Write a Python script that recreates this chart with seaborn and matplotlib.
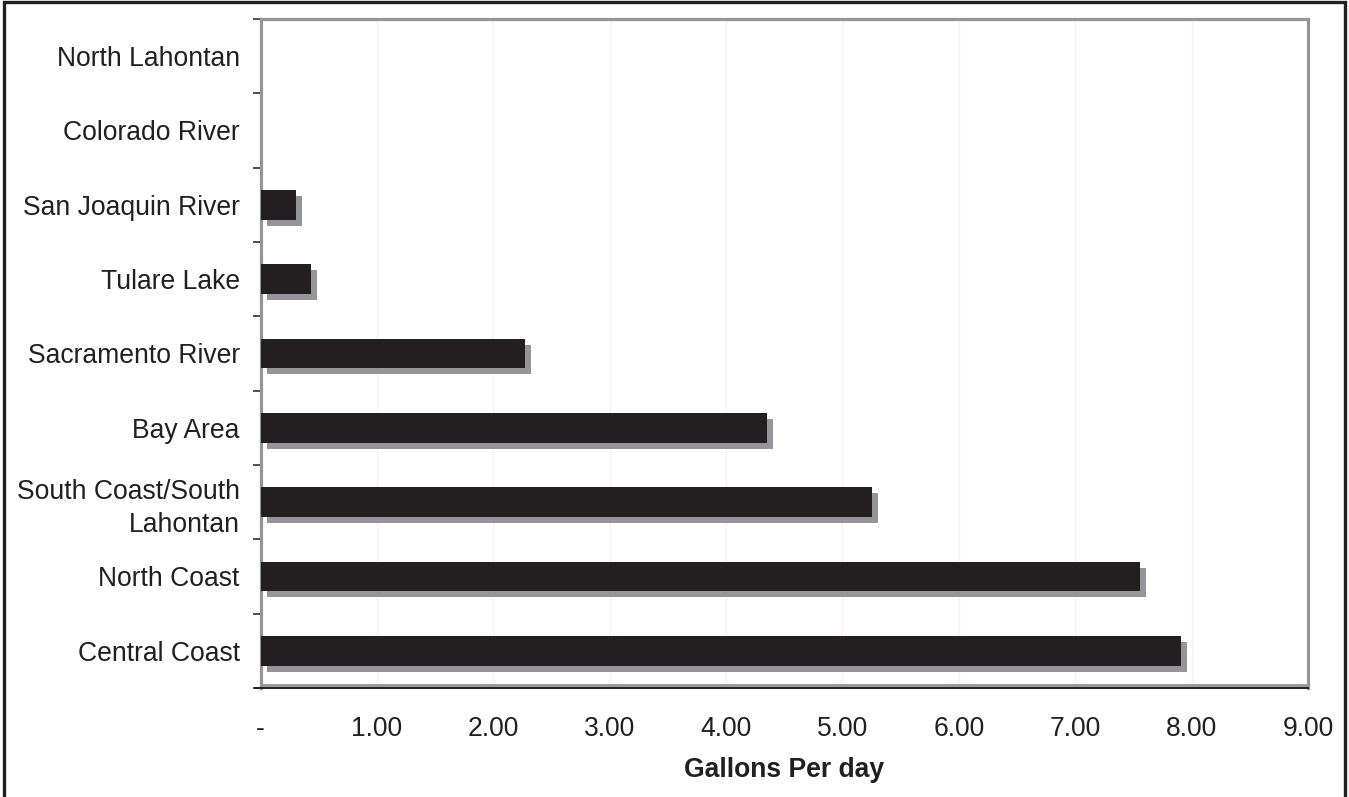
import matplotlib
matplotlib.use("Agg")
import matplotlib.pyplot as plt
import matplotlib.transforms as mtransforms
from matplotlib.patches import Rectangle
from matplotlib.ticker import FixedLocator
import numpy as np
import pandas as pd
import seaborn as sns

# Per-capita water use by hydrologic region (gallons per day)
regions = [
    "North Lahontan",
    "Colorado River",
    "San Joaquin River",
    "Tulare Lake",
    "Sacramento River",
    "Bay Area",
    "South Coast/South\nLahontan",
    "North Coast",
    "Central Coast",
]
gallons = [0.0, 0.0, 0.30, 0.43, 2.27, 4.35, 5.25, 7.56, 7.91]
x_ticks = [0, 1, 2, 3, 4, 5, 6, 7, 8, 9]
x_tick_labels = ["-", "1.00", "2.00", "3.00", "4.00", "5.00", "6.00", "7.00", "8.00", "9.00"]

df = pd.DataFrame({"region": regions, "gallons": gallons})

sns.set_theme(style="white")
plt.rcParams["font.family"] = ["Liberation Sans", "DejaVu Sans"]

INK = "#231f20"
SHADOW = "#939598"
FRAME = "#939598"
FS = 19.1

fig = plt.figure(figsize=(13.49, 7.97), dpi=100)
ax = fig.add_axes([0.1932, 0.1368, 0.9696 - 0.1932, 0.9762 - 0.1368])

# shadow bars first, then the solid bars on top
sns.barplot(data=df, x="gallons", y="region", orient="h", color=SHADOW,
            saturation=1, width=0.40, ax=ax, zorder=2)
n_shadow = len(ax.patches)
sns.barplot(data=df, x="gallons", y="region", orient="h", color=INK,
            saturation=1, width=0.40, ax=ax, zorder=3)

# drop shadow: move the grey copies 6 px right and 6 px down
shift = mtransforms.ScaledTranslation(6 / 100, -6 / 100, fig.dpi_scale_trans)
for p in ax.patches[:n_shadow]:
    p.set_transform(ax.transData + shift)
    p.set_linewidth(0)
    p.set_zorder(2)
for p in ax.patches[n_shadow:]:
    p.set_linewidth(0)
    p.set_zorder(3)

ax.set_xlim(0, 9)
ax.set_ylim(len(regions) - 0.5, -0.5)

# x axis
ax.set_xticks(x_ticks)
ax.set_xticklabels(x_tick_labels)
ax.tick_params(axis="x", length=0, pad=20, labelsize=FS, labelcolor=INK)
ax.grid(axis="x", color="#f3f3f3", linewidth=1, zorder=0)
ax.grid(axis="y", visible=False)
ax.set_axisbelow(True)
ax.set_xlabel("Gallons Per day", fontsize=FS, fontweight="bold",
              color=INK, labelpad=11)
ax.set_ylabel("")

# y axis: labels centred on bars, tick marks between categories
ax.yaxis.set_minor_locator(FixedLocator(np.arange(-0.5, len(regions), 1.0)))
ax.tick_params(axis="y", which="major", length=0, pad=15,
               labelsize=FS, labelcolor=INK)
ax.tick_params(axis="y", which="minor", left=True, length=6, width=1.1,
               color=INK, direction="out")
for lbl in ax.get_yticklabels():
    lbl.set_linespacing(1.35)

# frame: grey box with a black base line
for side in ("left", "top", "right"):
    ax.spines[side].set_color(FRAME)
    ax.spines[side].set_linewidth(2.3)
    ax.spines[side].set_visible(True)
ax.spines["bottom"].set_visible(True)
ax.spines["bottom"].set_color(INK)
ax.spines["bottom"].set_linewidth(1.4)
ax.plot([0, 1], [0, 0],
        transform=ax.transAxes + mtransforms.ScaledTranslation(0, 2.5 / 100, fig.dpi_scale_trans),
        color=FRAME, linewidth=2.0, clip_on=False, zorder=4)
ax.plot([-6 / 1048, 0], [0, 0], transform=ax.transAxes, color=INK,
        linewidth=1.4, clip_on=False, zorder=4)

# outer border of the figure
fig.patches.append(Rectangle((0.0026, -0.05), 0.9948, 1.048,
                             transform=fig.transFigure, fill=False,
                             edgecolor=INK, linewidth=2.4))

fig.savefig("out.png", dpi=100)
